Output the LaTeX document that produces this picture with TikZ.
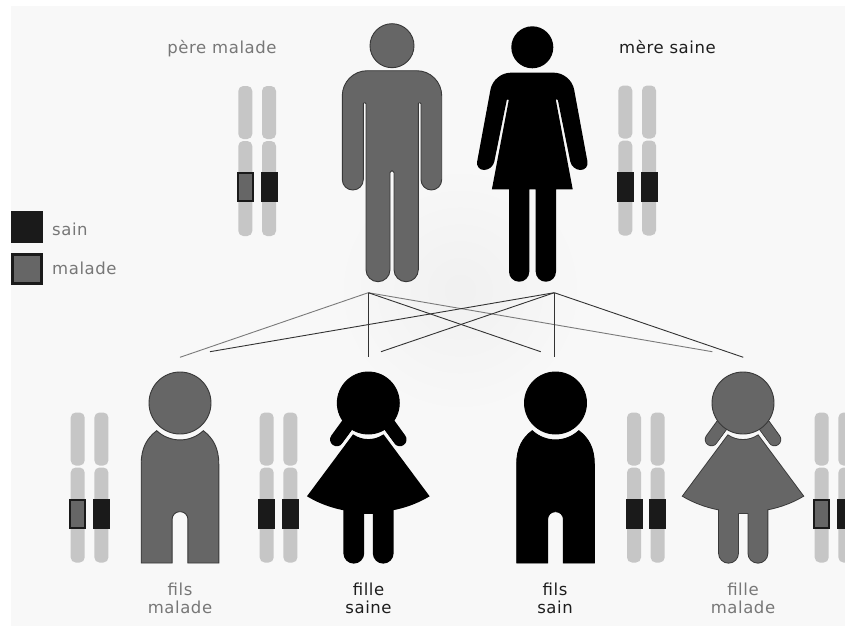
\documentclass[tikz,border=0pt]{standalone}
\usepackage{fontspec}
\setmainfont[LetterSpace=3.5]{DejaVu Sans}
\definecolor{bgc}{HTML}{F8F8F8}
\definecolor{sick}{HTML}{666666}
\definecolor{sickedge}{HTML}{383838}
\definecolor{chrom}{HTML}{C6C6C6}
\definecolor{band}{HTML}{1A1A1A}
\definecolor{sicktext}{HTML}{777777}
\definecolor{oktext}{HTML}{1E1E1E}
\definecolor{linegray}{HTML}{7A7A7A}
\definecolor{linedark}{HTML}{333333}
\tikzset{
  chromseg/.style={fill=chrom,rounded corners=5pt},
  okband/.style={fill=band,draw=band,line width=2pt},
  badband/.style={fill=sick,draw=band,line width=2pt},
  lab/.style={font=\fontsize{16.5}{17.7}\selectfont,align=center,inner sep=0pt,text depth=0pt},
  lkgray/.style={draw=linegray,line width=0.9pt},
  lkdark/.style={draw=linedark,line width=0.9pt},
}
% #1 left edge, #2 top, #3 style of the left band
\newcommand\chrompair[3]{%
  \begin{scope}[shift={(#1,#2)}]
    \path[chromseg] (0,0) rectangle (14,53);
    \path[chromseg] (0,55) rectangle (14,150);
    \path[chromseg] (23.7,0) rectangle (37.7,53);
    \path[chromseg] (23.7,55) rectangle (37.7,150);
    \path[#3] (-0.5,87) rectangle (14.5,115);
    \path[okband] (23.2,87) rectangle (38.2,115);
  \end{scope}}
% #1 centre x, #2 fill, #3 outline
\newcommand\sonfig[3]{%
  \begin{scope}[shift={(#1,0)}]
    \path[fill=#2,draw=#3,line width=0.9pt] (-23.3,430.7) .. controls (-10,443) and (10,443) .. (23.3,430.7)
      .. controls (33,438) and (38.8,448) .. (38.8,464) -- (38.8,563) -- (7.9,563)
      [rounded corners=7.5pt] -- (7.9,511.7) -- (-7.9,511.7) [sharp corners] -- (-7.9,563) -- (-38.8,563) -- (-38.8,464)
      .. controls (-38.8,448) and (-33,438) .. (-23.3,430.7) -- cycle;
    \path[fill=#2,draw=#3,line width=0.9pt] (0,403) circle[radius=31pt];
  \end{scope}}
\newcommand\dresspath{(-15,435.5) .. controls (-6,441.5) and (6,441.5) .. (15,435.5)
      -- (60,496) .. controls (25,517) and (-25,517) .. (-60,496) -- cycle}
\newcommand\legspath{[rounded corners=9.5pt] (-24,500) -- (-24,562.7) -- (-5,562.7) [sharp corners] -- (-5,513) -- (5.4,513)
      [rounded corners=9.5pt] -- (5.4,562.7) -- (24.4,562.7) [sharp corners] -- (24.4,500) -- cycle}
\newcommand\daughterfig[3]{%
  \begin{scope}[shift={(#1,0)}]
    \draw[#3,line width=13.5pt,line cap=round] (-13,414) -- (-31.5,439.5);
    \draw[#3,line width=13.5pt,line cap=round] (13,414) -- (31.5,439.5);
    \draw[#2,line width=11.7pt,line cap=round] (-13,414) -- (-31.5,439.5);
    \draw[#2,line width=11.7pt,line cap=round] (13,414) -- (31.5,439.5);
    \path[draw=bgc,line width=8pt] \dresspath;
    \path[draw=#3,line width=1.8pt] \legspath;
    \path[draw=#3,line width=1.8pt] \dresspath;
    \path[fill=#2] \legspath;
    \path[fill=#2] \dresspath;
    \path[fill=#2,draw=#3,line width=0.9pt] (0,403) circle[radius=31pt];
  \end{scope}}
\begin{document}
\begin{tikzpicture}[x=1pt,y=-1pt]
\useasboundingbox (0,0) rectangle (845,626);
\clip (0,0) rectangle (845,626);
\fill[white] (0,0) rectangle (845,626);
\fill[bgc] (11,6) rectangle (845,626);
\shade[inner color=black!3!bgc,outer color=bgc] (460,290) circle[radius=125pt];

% legend
\path[fill=band] (11,210.7) rectangle (43,242.7);
\path[fill=sick,draw=band,line width=2.6pt] (12.3,254.6) rectangle (41.7,283.7);
\node[lab,text=sicktext,anchor=base west] (lsain) at (52,235) {sain};
\node[lab,text=sicktext,anchor=base west] (lmalade) at (52,274) {malade};

% titles
\node[lab,text=sicktext,anchor=base] (tp) at (222,54) {père malade};
\node[lab,text=oktext,anchor=base] (tm) at (667.5,53.3) {mère saine};

% chromosomes
\chrompair{238.3}{86}{badband}
\chrompair{618.3}{85.5}{okband}
\chrompair{70.7}{412.5}{badband}
\chrompair{259.7}{412.5}{okband}
\chrompair{627}{412.5}{okband}
\chrompair{814.7}{412.5}{badband}

% father
\path[fill=sick,draw=sickedge,line width=0.9pt] (392,45.7) circle[radius=22pt];
\path[fill=sick,draw=sickedge,line width=0.9pt,rounded corners=25pt]
  (392,70.7) -- (441.7,70.7) [rounded corners=10.4pt] -- (441.7,190) -- (421,190)
  [rounded corners=1pt] -- (421,102.7) -- (418.3,102.7)
  [rounded corners=12pt] -- (418.3,281.7) -- (394,281.7)
  [rounded corners=1.9pt] -- (394,170.7) -- (390,170.7)
  [rounded corners=12pt] -- (390,281.7) -- (366,281.7)
  [rounded corners=1pt] -- (366,102.7) -- (363.3,102.7)
  [rounded corners=10.4pt] -- (363.3,190) -- (342.3,190)
  [rounded corners=25pt] -- (342.3,70.7) -- cycle;

% mother
\path[fill=black] (532.3,47.3) circle[radius=21pt];
\path[fill=black,rounded corners=17pt]
  (532.3,72.7) -- (571,72.7) [rounded corners=8.5pt] -- (589,170) -- (572,170)
  [rounded corners=0.9pt] -- (557.7,99.3) -- (555.7,99.3)
  [sharp corners] -- (572.7,189.3) -- (556,189.3)
  [rounded corners=10pt] -- (556,281.7) -- (535.7,281.7)
  [sharp corners] -- (535.7,189.3) -- (529.3,189.3)
  [rounded corners=10pt] -- (529.3,281.7) -- (509,281.7)
  [sharp corners] -- (509,189.3) -- (491.9,189.3)
  [rounded corners=0.9pt] -- (508.9,99.3) -- (506.9,99.3)
  [rounded corners=8.5pt] -- (492.6,170) -- (475.6,170)
  [rounded corners=17pt] -- (493.6,72.7) -- cycle;

% children
\sonfig{180}{sick}{sickedge}
\daughterfig{368.3}{black}{black}
\sonfig{555.5}{black}{black}
\daughterfig{743}{sick}{sickedge}

% connectors
\coordinate (pf) at (368.3,292.7);
\coordinate (mf) at (554.3,292.7);
\coordinate (a1) at (180,357.3);
\coordinate (a2) at (368.3,357.3);
\coordinate (a3) at (540.7,351.7);
\coordinate (a4) at (712.3,351.7);
\coordinate (b1) at (210,351.7);
\coordinate (b2) at (381,351.7);
\coordinate (b3) at (554.3,357.3);
\coordinate (b4) at (743.3,357.3);
\path[lkgray] (pf) -- (a1);
\path[lkgray] (pf) -- (a4);
\path[lkdark] (pf) -- (a2);
\path[lkdark] (pf) -- (a3);
\path[lkdark] (mf) -- (b1);
\path[lkdark] (mf) -- (b2);
\path[lkdark] (mf) -- (b3);
\path[lkdark] (mf) -- (b4);

% child labels
\node[lab,text=sicktext] (c1) at (180,598) {fils\\malade};
\node[lab,text=oktext] (c2) at (368.5,598) {fille\\saine};
\node[lab,text=oktext] (c3) at (555,598) {fils\\sain};
\node[lab,text=sicktext] (c4) at (743,598) {fille\\malade};
\end{tikzpicture}
\end{document}
